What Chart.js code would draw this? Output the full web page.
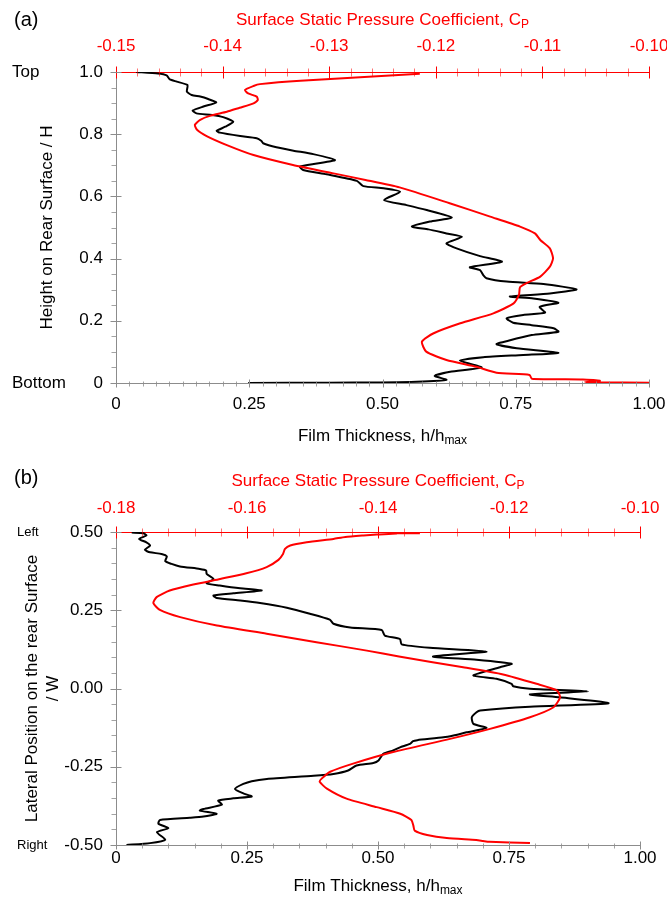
<!DOCTYPE html>
<html>
<head>
<meta charset="utf-8">
<script src="https://cdn.jsdelivr.net/npm/chart.js@4.4.1/dist/chart.umd.min.js"></script>
<style>
  html, body { margin: 0; padding: 0; background: #fff; }
  #page { position: relative; width: 667px; height: 898px; }
  #chartA { position: absolute; left: 0; top: 0; }
  #chartB { position: absolute; left: 0; top: 450px; }
</style>
</head>
<body>
<div id="page">
  <canvas id="chartA" width="667" height="450"></canvas>
  <canvas id="chartB" width="667" height="448"></canvas>
</div>
<script>
// ---- (a) vertical traverse: height / H ----
const aFilmHeight = [1.000, 0.995, 0.989, 0.976, 0.969, 0.958, 0.937, 0.926, 0.921, 0.913,
  0.902, 0.889, 0.876, 0.867, 0.862, 0.855, 0.840, 0.824, 0.811, 0.805,
  0.794, 0.787, 0.778, 0.771, 0.758, 0.747, 0.736, 0.717, 0.706, 0.696,
  0.685, 0.671, 0.650, 0.633, 0.626, 0.615, 0.588, 0.572, 0.556, 0.532,
  0.519, 0.503, 0.494, 0.481, 0.470, 0.449, 0.433, 0.408, 0.390, 0.372,
  0.363, 0.347, 0.337, 0.326, 0.318, 0.301, 0.288, 0.278, 0.272, 0.258,
  0.245, 0.226, 0.219, 0.208, 0.194, 0.186, 0.176, 0.165, 0.154, 0.136,
  0.125, 0.112, 0.097, 0.090, 0.083, 0.072, 0.050, 0.036, 0.023, 0.010,
  0.004, 0.002, 0.001, 0.000];
const aFilmThickness = [0.038, 0.079, 0.095, 0.101, 0.114, 0.134, 0.133, 0.142, 0.158, 0.173,
  0.188, 0.164, 0.144, 0.151, 0.180, 0.201, 0.220, 0.205, 0.189, 0.195,
  0.233, 0.264, 0.273, 0.276, 0.301, 0.333, 0.370, 0.411, 0.377, 0.345,
  0.351, 0.395, 0.452, 0.464, 0.502, 0.533, 0.503, 0.545, 0.583, 0.630,
  0.589, 0.555, 0.586, 0.620, 0.649, 0.620, 0.639, 0.683, 0.724, 0.664,
  0.683, 0.689, 0.695, 0.733, 0.802, 0.864, 0.814, 0.739, 0.783, 0.830,
  0.795, 0.805, 0.764, 0.733, 0.745, 0.780, 0.821, 0.830, 0.780, 0.736,
  0.714, 0.752, 0.830, 0.764, 0.689, 0.645, 0.686, 0.627, 0.598, 0.620,
  0.564, 0.495, 0.400, 0.248];

const aCpHeight = [0.994, 0.972, 0.961, 0.955, 0.942, 0.931, 0.921, 0.910, 0.899, 0.885,
  0.872, 0.859, 0.846, 0.830, 0.814, 0.794, 0.765, 0.733, 0.701, 0.674,
  0.653, 0.629, 0.578, 0.535, 0.503, 0.481, 0.460, 0.433, 0.401, 0.374,
  0.342, 0.321, 0.308, 0.283, 0.256, 0.224, 0.192, 0.160, 0.133, 0.101,
  0.074, 0.052, 0.033, 0.026, 0.014, 0.011, 0.007, 0.003, 0.002, 0.001];
const aCp = [-0.1215, -0.1327, -0.1365, -0.1371, -0.1379, -0.1376, -0.1368, -0.1367, -0.1371, -0.1384,
  -0.1396, -0.1412, -0.1421, -0.1426, -0.1424, -0.1415, -0.1396, -0.1371, -0.1334, -0.1296,
  -0.1266, -0.1234, -0.1187, -0.1149, -0.1121, -0.1107, -0.1102, -0.1093, -0.1090, -0.1093,
  -0.1102, -0.1115, -0.1121, -0.1122, -0.1127, -0.1146, -0.1177, -0.1202, -0.1213, -0.1209,
  -0.1190, -0.1162, -0.1143, -0.1112, -0.1110, -0.1062, -0.1046, -0.1060, -0.1046, -0.1000];

const aHeightTicks = [0, 0.2, 0.4, 0.6, 0.8, 1.0];
const aHeightLabels = ['0', '0.2', '0.4', '0.6', '0.8', '1.0'];
const aFilmTicks = [0, 0.25, 0.5, 0.75, 1.0];
const aFilmLabels = ['0', '0.25', '0.50', '0.75', '1.00'];
const aCpTicks = [-0.15, -0.14, -0.13, -0.12, -0.11, -0.10];
const aCpLabels = ['-0.15', '-0.14', '-0.13', '-0.12', '-0.11', '-0.10'];

// ---- (b) lateral traverse: position / W ----
const bFilmPos = [0.498, 0.496, 0.489, 0.478, 0.467, 0.457, 0.443, 0.435, 0.430, 0.422,
  0.407, 0.398, 0.390, 0.382, 0.377, 0.366, 0.350, 0.336, 0.329, 0.320,
  0.313, 0.304, 0.297, 0.289, 0.281, 0.273, 0.258, 0.239, 0.220, 0.207,
  0.195, 0.187, 0.169, 0.158, 0.141, 0.130, 0.118, 0.102, 0.092, 0.079,
  0.068, 0.042, 0.031, 0.015, 0.007, -0.001, -0.009, -0.019, -0.028, -0.047,
  -0.058, -0.070, -0.076, -0.092, -0.113, -0.126, -0.140, -0.150, -0.156, -0.165,
  -0.168, -0.177, -0.188, -0.198, -0.209, -0.230, -0.238, -0.246, -0.262, -0.273,
  -0.279, -0.289, -0.296, -0.305, -0.321, -0.335, -0.345, -0.351, -0.358, -0.371,
  -0.385, -0.390, -0.400, -0.409, -0.413, -0.420, -0.432, -0.446, -0.459, -0.483,
  -0.494, -0.500];
const bFilmThickness = [0.030, 0.052, 0.058, 0.044, 0.058, 0.065, 0.055, 0.065, 0.087, 0.097,
  0.094, 0.106, 0.122, 0.160, 0.172, 0.173, 0.186, 0.173, 0.198, 0.237,
  0.278, 0.224, 0.186, 0.192, 0.237, 0.275, 0.326, 0.370, 0.408, 0.415,
  0.447, 0.507, 0.513, 0.542, 0.545, 0.599, 0.707, 0.605, 0.688, 0.755,
  0.733, 0.682, 0.726, 0.755, 0.758, 0.790, 0.901, 0.790, 0.847, 0.940,
  0.790, 0.695, 0.688, 0.679, 0.682, 0.707, 0.669, 0.644, 0.625, 0.575,
  0.567, 0.561, 0.542, 0.529, 0.510, 0.501, 0.491, 0.459, 0.443, 0.415,
  0.377, 0.288, 0.259, 0.243, 0.227, 0.243, 0.259, 0.224, 0.195, 0.202,
  0.167, 0.160, 0.192, 0.167, 0.141, 0.084, 0.081, 0.100, 0.078, 0.094,
  0.065, 0.020];

const bCpPos = [0.496, 0.497, 0.495, 0.492, 0.489, 0.484, 0.478, 0.467, 0.457, 0.446,
  0.430, 0.411, 0.388, 0.368, 0.350, 0.332, 0.313, 0.292, 0.273, 0.251,
  0.228, 0.201, 0.175, 0.148, 0.121, 0.102, 0.068, 0.045, 0.015, -0.006,
  -0.028, -0.060, -0.092, -0.129, -0.161, -0.203, -0.240, -0.266, -0.288, -0.298,
  -0.320, -0.352, -0.379, -0.400, -0.420, -0.438, -0.454, -0.468, -0.478, -0.484,
  -0.487, -0.490, -0.494];
const bCp = [-0.1336, -0.1375, -0.1372, -0.1402, -0.1422, -0.1450, -0.1468, -0.1509, -0.1534, -0.1542,
  -0.1545, -0.1552, -0.1570, -0.1601, -0.1641, -0.1682, -0.1718, -0.1738, -0.1743, -0.1733,
  -0.1702, -0.1646, -0.1570, -0.1494, -0.1417, -0.1368, -0.1270, -0.1209, -0.1158, -0.1127,
  -0.1122, -0.1132, -0.1168, -0.1229, -0.1290, -0.1377, -0.1438, -0.1473, -0.1486, -0.1489,
  -0.1478, -0.1448, -0.1402, -0.1366, -0.1349, -0.1346, -0.1344, -0.1325, -0.1295, -0.1250,
  -0.1240, -0.1230, -0.1168];

const bPosTicks = [-0.5, -0.25, 0, 0.25, 0.5];
const bPosLabels = ['-0.50', '-0.25', '0.00', '0.25', '0.50'];
const bFilmTicks = [0, 0.25, 0.5, 0.75, 1.0];
const bFilmLabels = ['0', '0.25', '0.50', '0.75', '1.00'];
const bCpTicks = [-0.18, -0.16, -0.14, -0.12, -0.10];
const bCpLabels = ['-0.18', '-0.16', '-0.14', '-0.12', '-0.10'];

const FONT = "'Liberation Sans', Arial, Helvetica, sans-serif";
const RED = '#ff0000';
const GREY = '#8c8c8c';

// Major and minor tick marks, drawn across the axis line
const tickMarks = {
    id: 'tickMarks',
    afterDraw(chart, args, opts) {
        const ctx = chart.ctx;
        opts.axes.forEach((a) => {
            const scale = chart.scales[a.id];
            const n = Math.round((a.max - a.min) / a.step);
            ctx.save();
            ctx.strokeStyle = a.color;
            ctx.lineWidth = 1;
            for (let i = 0; i <= n; i++) {
                const major = (i % a.every === 0);
                const len = major ? a.major : a.minor;
                const p = Math.round(scale.getPixelForValue(a.min + i * a.step)) + 0.5;
                ctx.globalAlpha = major ? 1 : a.minorAlpha;
                ctx.beginPath();
                if (scale.isHorizontal()) {
                    const base = (scale.position === 'top' ? scale.bottom : scale.top) + 0.5;
                    const out = (scale.position === 'top' ? -1 : 1);
                    ctx.moveTo(p, base - out * len[1]);
                    ctx.lineTo(p, base + out * len[0]);
                } else {
                    const base = scale.right + 0.5;
                    ctx.moveTo(base + len[1], p);
                    ctx.lineTo(base - len[0], p);
                }
                ctx.stroke();
            }
            ctx.restore();
        });
    }
};

// Panel letters, axis titles (with subscripts) and end labels
const panelText = {
    id: 'panelText',
    afterDraw(chart, args, opts) {
        const ctx = chart.ctx;
        const area = chart.chartArea;
        opts.items.forEach((t) => {
            const x = (t.x === 'mid') ? (area.left + area.right) / 2 : t.x;
            const y = (t.y === 'mid') ? (area.top + area.bottom) / 2 : t.y;
            ctx.save();
            ctx.translate(x, y);
            if (t.rotate) {
                ctx.rotate(-Math.PI / 2);
            }
            ctx.fillStyle = t.color || '#000';
            ctx.textBaseline = 'middle';
            ctx.textAlign = 'left';
            ctx.font = t.size + 'px ' + FONT;
            const mainW = ctx.measureText(t.text).width;
            let subW = 0;
            const subSize = Math.round(t.size * 0.7);
            if (t.sub) {
                ctx.font = subSize + 'px ' + FONT;
                subW = ctx.measureText(t.sub).width;
            }
            const start = (t.align === 'left') ? 0 : -(mainW + subW) / 2;
            ctx.font = t.size + 'px ' + FONT;
            ctx.fillText(t.text, start, 0);
            if (t.sub) {
                ctx.font = subSize + 'px ' + FONT;
                ctx.fillText(t.sub, start + mainW, t.size * 0.3);
            }
            ctx.restore();
        });
    }
};

function xyPoints(xs, ys) {
    return xs.map((x, i) => ({ x: x, y: ys[i] }));
}

function fixedTicks(values) {
    return (scale) => { scale.ticks = values.map((v) => ({ value: v })); };
}

function tickLabel(values, labels) {
    return (value) => {
        const i = values.findIndex((v) => Math.abs(v - value) < 1e-9);
        return (i >= 0 ? labels[i] : '');
    };
}

// fixes an axis box size and drops the label overhang padding
function fixedBox(prop, size) {
    return (scale) => {
        scale[prop] = size;
        scale.paddingLeft = 0;
        scale.paddingRight = 0;
        scale.paddingTop = 0;
        scale.paddingBottom = 0;
    };
}

function makeChart(canvasId, p) {
    const tickFont = { family: FONT, size: 17 };
    return new Chart(document.getElementById(canvasId), {
        type: 'scatter',
        data: {
            datasets: [
                {
                    label: 'Film thickness',
                    data: xyPoints(p.film, p.filmPos),
                    xAxisID: 'xFilm',
                    yAxisID: 'y',
                    showLine: true,
                    borderColor: '#000',
                    borderWidth: 2,
                    pointRadius: 0,
                    tension: 0.2,
                    order: 2
                },
                {
                    label: 'Cp',
                    data: xyPoints(p.cp, p.cpPos),
                    xAxisID: 'xCp',
                    yAxisID: 'y',
                    showLine: true,
                    borderColor: RED,
                    borderWidth: 2,
                    pointRadius: 0,
                    tension: 0.2,
                    order: 1
                }
            ]
        },
        options: {
            responsive: false,
            animation: false,
            events: [],
            layout: {
                autoPadding: false,
                padding: { left: 0, top: 0, right: p.rightPad, bottom: 0 }
            },
            plugins: {
                legend: { display: false },
                tooltip: { enabled: false },
                tickMarks: { axes: p.marks },
                panelText: { items: p.texts }
            },
            scales: {
                y: {
                    type: 'linear',
                    position: 'left',
                    min: p.posTicks[0],
                    max: p.posTicks[p.posTicks.length - 1],
                    afterBuildTicks: fixedTicks(p.posTicks),
                    afterFit: fixedBox('width', 116),
                    ticks: { callback: tickLabel(p.posTicks, p.posLabels), color: '#000', font: tickFont, padding: 13, autoSkip: false },
                    grid: { display: false, drawTicks: false },
                    border: { color: GREY, width: 1 }
                },
                xFilm: {
                    type: 'linear',
                    position: 'bottom',
                    min: 0,
                    max: 1,
                    afterBuildTicks: fixedTicks(p.filmTicks),
                    afterFit: fixedBox('height', p.bottomHeight),
                    ticks: { callback: tickLabel(p.filmTicks, p.filmLabels), color: '#000', font: tickFont, padding: p.bottomPad, autoSkip: false, maxRotation: 0 },
                    grid: { display: false, drawTicks: false },
                    border: { color: GREY, width: 1 }
                },
                xCp: {
                    type: 'linear',
                    position: 'top',
                    min: p.cpTicks[0],
                    max: p.cpTicks[p.cpTicks.length - 1],
                    afterBuildTicks: fixedTicks(p.cpTicks),
                    afterFit: fixedBox('height', p.topHeight),
                    ticks: { callback: tickLabel(p.cpTicks, p.cpLabels), color: RED, font: tickFont, padding: p.topPad, autoSkip: false, maxRotation: 0 },
                    grid: { display: false, drawTicks: false },
                    border: { color: RED, width: 1 }
                }
            }
        },
        plugins: [tickMarks, panelText]
    });
}

makeChart('chartA', {
    film: aFilmThickness, filmPos: aFilmHeight,
    cp: aCp, cpPos: aCpHeight,
    posTicks: aHeightTicks, posLabels: aHeightLabels,
    filmTicks: aFilmTicks, filmLabels: aFilmLabels,
    cpTicks: aCpTicks, cpLabels: aCpLabels,
    rightPad: 18, topHeight: 72, bottomHeight: 67, topPad: 15, bottomPad: 11,
    marks: [
        { id: 'xCp', min: -0.15, max: -0.10, step: 0.002, every: 5, color: RED, major: [6, 6], minor: [4, 4], minorAlpha: 0.55 },
        { id: 'xFilm', min: 0, max: 1, step: 0.025, every: 10, color: GREY, major: [4, 4], minor: [3, 2], minorAlpha: 0.8 },
        { id: 'y', min: 0, max: 1, step: 0.05, every: 4, color: GREY, major: [6, 5], minor: [5, 0], minorAlpha: 0.8 }
    ],
    texts: [
        { text: '(a)', x: 14, y: 20, size: 20, align: 'left' },
        { text: 'Surface Static Pressure Coefficient, C', sub: 'P', x: 'mid', y: 20, size: 17, color: RED },
        { text: 'Film Thickness, h/h', sub: 'max', x: 'mid', y: 436, size: 17 },
        { text: 'Height on Rear Surface / H', x: 47, y: 'mid', size: 17, rotate: true },
        { text: 'Top', x: 12, y: 72, size: 17, align: 'left' },
        { text: 'Bottom', x: 12, y: 383, size: 17, align: 'left' }
    ]
});

makeChart('chartB', {
    film: bFilmThickness, filmPos: bFilmPos,
    cp: bCp, cpPos: bCpPos,
    posTicks: bPosTicks, posLabels: bPosLabels,
    filmTicks: bFilmTicks, filmLabels: bFilmLabels,
    cpTicks: bCpTicks, cpLabels: bCpLabels,
    rightPad: 27, topHeight: 82, bottomHeight: 53, topPad: 13, bottomPad: 3,
    marks: [
        { id: 'xCp', min: -0.18, max: -0.10, step: 0.004, every: 5, color: RED, major: [6, 6], minor: [4, 4], minorAlpha: 0.55 },
        { id: 'xFilm', min: 0, max: 1, step: 0.05, every: 5, color: GREY, major: [4, 4], minor: [3, 2], minorAlpha: 0.8 },
        { id: 'y', min: -0.5, max: 0.5, step: 0.05, every: 5, color: GREY, major: [6, 5], minor: [5, 0], minorAlpha: 0.8 }
    ],
    texts: [
        { text: '(b)', x: 14, y: 28, size: 20, align: 'left' },
        { text: 'Surface Static Pressure Coefficient, C', sub: 'P', x: 'mid', y: 31, size: 17, color: RED },
        { text: 'Film Thickness, h/h', sub: 'max', x: 'mid', y: 436, size: 17 },
        { text: 'Lateral Position on the rear Surface', x: 32, y: 'mid', size: 17, rotate: true },
        { text: '/ W', x: 53, y: 'mid', size: 17, rotate: true },
        { text: 'Left', x: 17, y: 82, size: 13, align: 'left' },
        { text: 'Right', x: 17, y: 395, size: 13, align: 'left' }
    ]
});
</script>
</body>
</html>
